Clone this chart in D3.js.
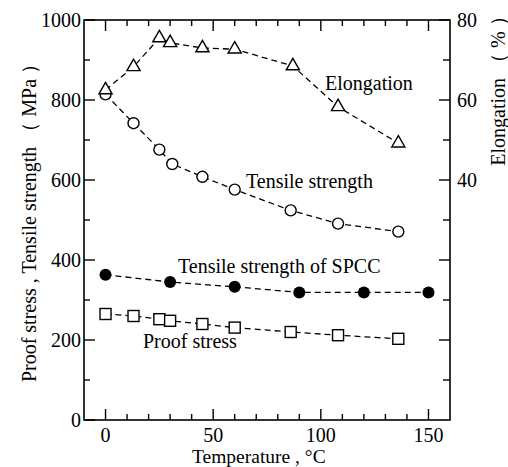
<!DOCTYPE html>
<html><head><meta charset="utf-8">
<script src="https://cdn.jsdelivr.net/npm/d3@7"></script>
<style>body{margin:0;background:#fff}svg{display:block}</style>
</head><body>
<svg id="c" width="508" height="467"></svg>
<script>
const elongT = [0, 13, 25, 30, 45, 60, 87, 108, 136];
const elongV = [62.5, 68.3, 75.5, 74.3, 73, 72.7, 68.5, 58.3, 49.2];
const tensT = [0, 13, 25, 31, 45, 60, 86, 108, 136];
const tensV = [814, 742, 676, 640, 608, 576, 524, 491, 471];
const spccT = [0, 30, 60, 90, 120, 150];
const spccV = [363, 345, 333, 319, 319, 319];
const proofT = [0, 13, 25, 30, 45, 60, 86, 108, 136];
const proofV = [265, 260, 252, 248, 240, 231, 220, 212, 203];
const xTicks = [0, 50, 100, 150];
const yLeftTicks = [0, 200, 400, 600, 800, 1000];
const yRightTicks = [40, 60, 80];

const svg = d3.select("#c");
const L = 84, R = 450, T = 20, B = 420;
const x = d3.scaleLinear().domain([-10, 160]).range([L, R]);
const yl = d3.scaleLinear().domain([0, 1000]).range([B, T]);
const yr = d3.scaleLinear().domain([-20, 80]).range([B, T]);

function txt(s) { return svg.append("text").style("font-family", '"Liberation Serif"').attr("fill", "#000").text(s); }

// frame
svg.append("rect").attr("x", L).attr("y", T).attr("width", R - L).attr("height", B - T)
  .attr("fill", "none").attr("stroke", "#000").attr("stroke-width", 1.6);

const fs = 20;
// x ticks
d3.range(0, 160, 10).forEach(v => {
  const len = v % 50 === 0 ? 11 : 6;
  svg.append("line").attr("x1", x(v)).attr("x2", x(v)).attr("y1", B).attr("y2", B - len).attr("stroke", "#000").attr("stroke-width", 1.4);
  svg.append("line").attr("x1", x(v)).attr("x2", x(v)).attr("y1", T).attr("y2", T + len).attr("stroke", "#000").attr("stroke-width", 1.4);
});
xTicks.forEach(v => {
  txt(v).attr("x", x(v)).attr("y", 442).attr("text-anchor", "middle").attr("font-size", fs);
});
// left ticks
d3.range(0, 1001, 100).forEach(v => {
  const len = v % 200 === 0 ? 11 : 6;
  svg.append("line").attr("x1", L).attr("x2", L + len).attr("y1", yl(v)).attr("y2", yl(v)).attr("stroke", "#000").attr("stroke-width", 1.4);
});
yLeftTicks.forEach(v => {
  txt(v).attr("x", 81).attr("y", yl(v) + 7).attr("text-anchor", "end").attr("font-size", fs);
});
// right ticks
d3.range(-10, 81, 10).forEach(v => {
  const len = v % 20 === 0 ? 11 : 7;
  svg.append("line").attr("x1", R).attr("x2", R - len).attr("y1", yr(v)).attr("y2", yr(v)).attr("stroke", "#000").attr("stroke-width", 1.4);
});
yRightTicks.forEach(v => {
  txt(v).attr("x", 457).attr("y", yr(v) + 7).attr("text-anchor", "start").attr("font-size", fs);
});

// axis labels
txt("Temperature , \u00B0C").attr("x", 192).attr("y", 463).attr("font-size", 19.5);
txt("Proof stress , Tensile strength （ MPa ）").attr("transform", "translate(36,218) rotate(-90)").attr("text-anchor", "middle").attr("font-size", fs);
txt("Elongation （ % ）").attr("transform", "translate(505,86) rotate(-90)").attr("text-anchor", "middle").attr("font-size", fs);

// series
function series(ts, vs, ys) {
  const pts = ts.map((t, i) => [x(t), ys(vs[i])]);
  svg.append("path").attr("d", d3.line()(pts)).attr("fill", "none").attr("stroke", "#000")
    .attr("stroke-width", 1.3).attr("stroke-dasharray", "6,4");
  return pts;
}
const pe = series(elongT, elongV, yr);
const pt = series(tensT, tensV, yl);
const ps = series(spccT, spccV, yl);
const pp = series(proofT, proofV, yl);

pt.forEach(p => svg.append("circle").attr("cx", p[0]).attr("cy", p[1]).attr("r", 5.5).attr("fill", "#fff").attr("stroke", "#000").attr("stroke-width", 1.4));
ps.forEach(p => svg.append("circle").attr("cx", p[0]).attr("cy", p[1]).attr("r", 6).attr("fill", "#000"));
pp.forEach(p => svg.append("rect").attr("x", p[0] - 5.5).attr("y", p[1] - 5.5).attr("width", 11).attr("height", 11).attr("fill", "#fff").attr("stroke", "#000").attr("stroke-width", 1.4));
const tri = d3.symbol().type(d3.symbolTriangle).size(75);
pe.forEach(p => svg.append("path").attr("d", tri()).attr("transform", `translate(${p[0]},${p[1]})`).attr("fill", "#fff").attr("stroke", "#000").attr("stroke-width", 1.4));

// in-plot labels
txt("Elongation").attr("x", 325).attr("y", 90).attr("font-size", fs);
txt("Tensile strength").attr("x", 246).attr("y", 188).attr("font-size", fs);
txt("Tensile strength of SPCC").attr("x", 178).attr("y", 273).attr("font-size", fs);
txt("Proof stress").attr("x", 143).attr("y", 348).attr("font-size", fs);
</script>
</body></html>
